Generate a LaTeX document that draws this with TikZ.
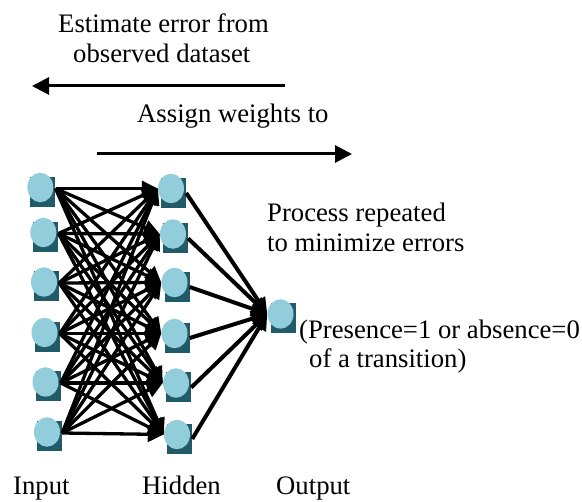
\documentclass[tikz,border=0pt]{standalone}
\usepackage{fontspec}
\setmainfont{Liberation Serif}
\usetikzlibrary{arrows.meta,shapes.geometric}
\definecolor{sqcol}{HTML}{215B6A}
\definecolor{circcol}{HTML}{92CDDC}
\begin{document}
\begin{tikzpicture}[x=1pt,y=-1pt,
  sq/.style={fill=sqcol, draw=none, minimum width=25pt, minimum height=30pt, inner sep=0pt},
  bub/.style={ellipse, fill=circcol, draw=none, minimum width=26pt, minimum height=29.5pt, inner sep=0pt},
  txt/.style={font=\fontsize{26.7}{30}\selectfont, inner sep=0pt, anchor=base west},
  wire/.style={line width=3.3pt, -{Triangle[length=16pt,width=15pt]}},
  wiretwo/.style={line width=4pt, -{Triangle[length=16pt,width=15pt]}},
  bigarrow/.style={line width=3pt, -{Triangle[length=17pt,width=17pt]}}]
\useasboundingbox (0,0) rectangle (582,502);

% input layer
\foreach \n/\x/\y in {1/40.3/187.5, 2/43.3/232.5, 3/44/282, 4/44.5/332.5, 5/45.5/382, 6/47/432}{
  \node[sq] (is\n) at (\x+2.5,\y+4.5) {};
  \node[bub] (i\n) at (\x,\y) {};
}
% hidden layer
\foreach \n/\x/\y in {1/171/188.5, 2/173/234, 3/174.5/282.5, 4/174.5/333.5, 5/176/383, 6/177/434.5}{
  \node[sq] (hs\n) at (\x+2.5,\y+4.5) {};
  \node[bub] (h\n) at (\x,\y) {};
}
% output
\node[sq] (os) at (283,318.5) {};
\node[bub] (o) at (280.5,314) {};

% connections
\foreach \a in {1,...,6}{
  \foreach \b in {1,...,6}{
    \draw[wire] ([yshift=3.5pt]is\a.east) -- (h\b.west);
  }
}
\foreach \b in {1,...,6}{
  \draw[wiretwo] (hs\b.east) -- (o.west);
}

% top arrows
\coordinate (las) at (285,86);
\coordinate (lae) at (32,86);
\draw[bigarrow] (las) -- (lae);
\coordinate (ras) at (97,154);
\coordinate (rae) at (352,154);
\draw[bigarrow] (ras) -- (rae);

% texts
\node[txt] (t1) at (58,33) {Estimate error from};
\node[txt] (t2) at (73,63) {observed dataset};
\node[txt] (t3) at (137,123) {Assign weights to};
\node[txt] (t4) at (267,222) {Process repeated};
\node[txt] (t5) at (267,252) {to minimize errors};
\node[txt] (t6) at (299,339) {(Presence=1 or absence=0};
\node[txt] (t7) at (309,368) {of a transition)};
\node[txt] (t8) at (13,495) {Input};
\node[txt] (t9) at (142,495) {Hidden};
\node[txt] (t10) at (276,495) {Output};
\end{tikzpicture}
\end{document}
